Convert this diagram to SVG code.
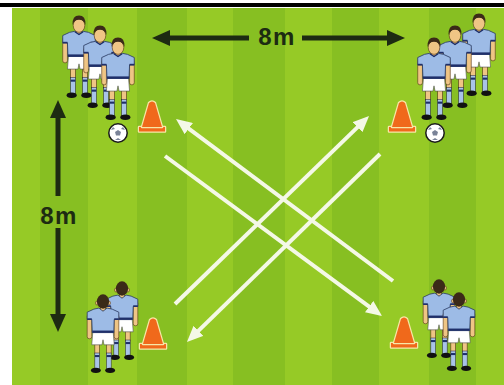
<svg xmlns="http://www.w3.org/2000/svg" xmlns:xlink="http://www.w3.org/1999/xlink" width="504" height="385" viewBox="0 0 504 385">
<style>
.skin{fill:#efc585;stroke:#5a3a1a;stroke-width:.6}
.shirt{fill:#9dbbe6;stroke:#2b3b63;stroke-width:.8;stroke-linejoin:round}
.navy{fill:#1f2f6a}
.shorts{fill:#ffffff;stroke:#555;stroke-width:.6}
.sock{fill:#a9c3e8;stroke:#223;stroke-width:.5}
.shoe{fill:#111}
.hair{fill:#3b2a18}
.wline{fill:none;stroke:#f4f8e6;stroke-width:4}
.dline{fill:none;stroke:#1d2b12;stroke-width:5}
.lbl{font-family:"Liberation Sans",Arial,sans-serif;font-weight:bold;font-size:24px;fill:#1d2b12;letter-spacing:1.5px}
.cone{fill:#f0691b;stroke:#f7e7a6;stroke-width:2.5;stroke-linejoin:round;paint-order:stroke}
.ball{fill:#fff;stroke:#1a1a1a;stroke-width:1.5}
.patch{fill:#7a8398}
.dk{fill:#87bf22}
</style>
<defs>
<marker id="wh" markerUnits="userSpaceOnUse" markerWidth="16" markerHeight="14" refX="8" refY="7" orient="auto">
<path d="M0,0 L16,7 L0,14 z" fill="#f4f8e6"/>
</marker>
<marker id="dh" markerUnits="userSpaceOnUse" markerWidth="18" markerHeight="16" refX="9" refY="8" orient="auto">
<path d="M0,0 L18,8 L0,16 z" fill="#1d2b12"/>
</marker>
<g id="body">
<rect class="skin" x="-15.5" y="12" width="4.5" height="24" rx="2"/>
<rect class="skin" x="11" y="12" width="4.5" height="24" rx="2"/>
<rect class="skin" x="-2.5" y="4" width="5" height="5"/>
<rect class="skin" x="-8" y="41" width="4.5" height="10"/>
<rect class="skin" x="3.5" y="41" width="4.5" height="10"/>
<rect class="sock" x="-8" y="50" width="4.5" height="16"/>
<rect class="sock" x="3.5" y="50" width="4.5" height="16"/>
<rect class="navy" x="-8" y="52" width="4.5" height="2"/>
<rect class="navy" x="3.5" y="52" width="4.5" height="2"/>
<ellipse class="shoe" cx="-7" cy="67" rx="4.8" ry="2.6"/>
<ellipse class="shoe" cx="7" cy="67" rx="4.8" ry="2.6"/>
<path class="shorts" d="M-10,29 L10,29 L11,42 L1,42 L0,37 L-1,42 L-11,42 Z"/>
<path class="shirt" d="M-9,7 L-4,6 L0,9 L4,6 L9,7 L15.5,10 L15.5,17 L11,17 L10.5,30 L-10.5,30 L-11,17 L-15.5,17 L-15.5,10 Z"/>
<rect class="navy" x="-10.5" y="28" width="21" height="2.2"/>
<rect class="navy" x="-15.5" y="16" width="4.5" height="1.6"/>
<rect class="navy" x="11" y="16" width="4.5" height="1.6"/>
</g>
<g id="pf">
<use xlink:href="#body"/>
<ellipse class="skin" cx="0" cy="0.5" rx="5.5" ry="6.5"/>
<path class="hair" d="M-6.2,0 Q-6.5,-9 0,-9 Q6.5,-9 6.2,0 Q4.5,-5 0,-5 Q-4.5,-5 -6.2,0 Z"/>
<path d="M-4,6.5 L0,9 L4,6.5" fill="none" stroke="#1f2f6a" stroke-width="1.2"/>
</g>
<g id="pb">
<use xlink:href="#body"/>
<ellipse class="skin" cx="-5.8" cy="1" rx="1.5" ry="2"/>
<ellipse class="skin" cx="5.8" cy="1" rx="1.5" ry="2"/>
<ellipse class="hair" cx="0" cy="-0.5" rx="6" ry="7"/>
</g>
</defs>

<rect x="0" y="0" width="504" height="385" fill="#ffffff"/>
<rect x="0" y="3" width="504" height="4" fill="#000000"/>
<g id="field">
<rect x="12" y="8" width="492" height="377" fill="#96ca26"/>
<rect class="dk" x="40" y="8" width="48" height="377"/>
<rect class="dk" x="137" y="8" width="50" height="377"/>
<rect class="dk" x="233" y="8" width="52" height="377"/>
<rect class="dk" x="332" y="8" width="47" height="377"/>
<rect class="dk" x="429" y="8" width="47" height="377"/>
</g>

<g id="connectors">
<line class="wline" x1="393" y1="281" x2="182.4" y2="123.8" marker-end="url(#wh)"/>
<line class="wline" x1="165" y1="156" x2="375.6" y2="311.3" marker-end="url(#wh)"/>
<line class="wline" x1="175" y1="304" x2="363.3" y2="121.6" marker-end="url(#wh)"/>
<line class="wline" x1="380" y1="154" x2="192.7" y2="336.4" marker-end="url(#wh)"/>
<line class="dline" x1="249" y1="38" x2="161" y2="38" marker-end="url(#dh)"/>
<line class="dline" x1="302" y1="38" x2="396" y2="38" marker-end="url(#dh)"/>
<line class="dline" x1="58" y1="196" x2="58" y2="109" marker-end="url(#dh)"/>
<line class="dline" x1="58" y1="228" x2="58" y2="323" marker-end="url(#dh)"/>
</g>
<text class="lbl" x="277" y="45" text-anchor="middle">8m</text>
<text class="lbl" x="59" y="224" text-anchor="middle">8m</text>

<g id="group-top-left">
<use xlink:href="#pf" transform="translate(79,25) scale(1.05)"/>
<use xlink:href="#pf" transform="translate(100,35) scale(1.05)"/>
<use xlink:href="#pf" transform="translate(118,47) scale(1.05)"/>
</g>
<g id="group-top-right">
<use xlink:href="#pf" transform="translate(479,23) scale(1.05)"/>
<use xlink:href="#pf" transform="translate(455,35) scale(1.05)"/>
<use xlink:href="#pf" transform="translate(434,47) scale(1.05)"/>
</g>
<g id="group-bottom-left">
<use xlink:href="#pb" transform="translate(122,289) scale(1.02)"/>
<use xlink:href="#pb" transform="translate(103,302) scale(1.02)"/>
</g>
<g id="group-bottom-right">
<use xlink:href="#pb" transform="translate(439,287) scale(1.02)"/>
<use xlink:href="#pb" transform="translate(459,300) scale(1.02)"/>
</g>

<g id="cone-top-left" transform="translate(152,132)">
<rect class="cone" x="-13" y="-5" width="26" height="4.5"/>
<path class="cone" d="M-10,-5 L-3,-29 Q0,-32 3,-29 L10,-5 Z"/>
</g>
<g id="cone-top-right" transform="translate(402,132)">
<rect class="cone" x="-13" y="-5" width="26" height="4.5"/>
<path class="cone" d="M-10,-5 L-3,-29 Q0,-32 3,-29 L10,-5 Z"/>
</g>
<g id="cone-bottom-left" transform="translate(153,349)">
<rect class="cone" x="-13" y="-5" width="26" height="4.5"/>
<path class="cone" d="M-10,-5 L-3,-29 Q0,-32 3,-29 L10,-5 Z"/>
</g>
<g id="cone-bottom-right" transform="translate(404,348)">
<rect class="cone" x="-13" y="-5" width="26" height="4.5"/>
<path class="cone" d="M-10,-5 L-3,-29 Q0,-32 3,-29 L10,-5 Z"/>
</g>

<g id="ball-top-left" transform="translate(118,133)">
<circle class="ball" r="9.2"/>
<path class="patch" d="M0,-3 L3,-1 L2,2.5 L-2,2.5 L-3,-1 Z"/>
<path class="patch" d="M-7,-3 L-5,-6 L-3,-4 Z M5,-6 L7,-3 L3,-4 Z M-3,7 L0,5 L3,7 Z"/>
</g>
<g id="ball-top-right" transform="translate(435,133)">
<circle class="ball" r="9.2"/>
<path class="patch" d="M0,-3 L3,-1 L2,2.5 L-2,2.5 L-3,-1 Z"/>
<path class="patch" d="M-7,-3 L-5,-6 L-3,-4 Z M5,-6 L7,-3 L3,-4 Z M-3,7 L0,5 L3,7 Z"/>
</g>
</svg>
